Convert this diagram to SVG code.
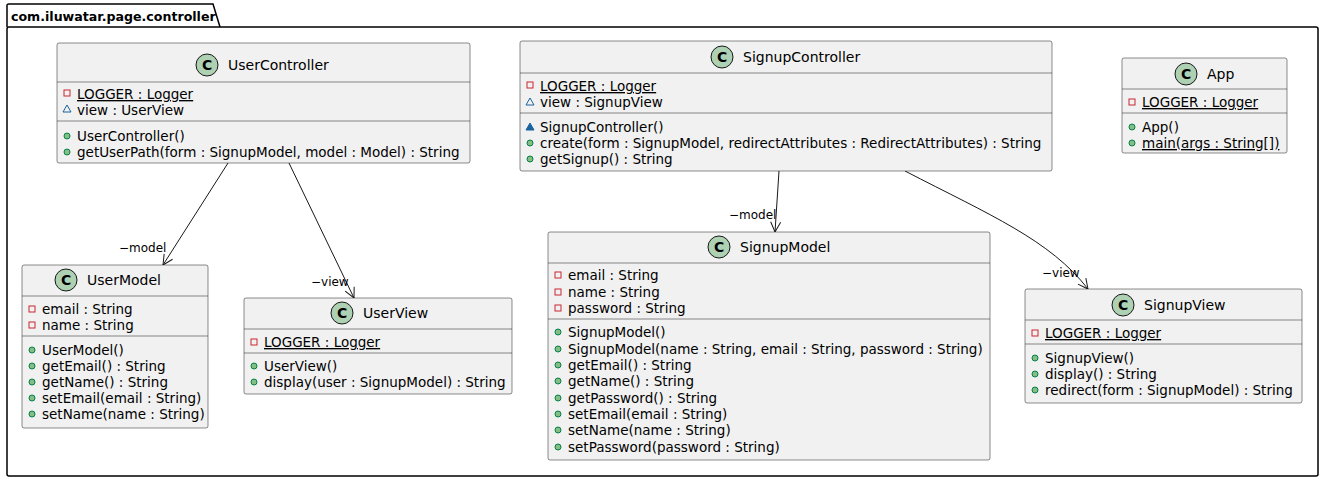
<svg xmlns="http://www.w3.org/2000/svg" width="1325" height="482" viewBox="0 0 1325 482">
<defs>
<style>
text{font-family:"DejaVu Sans","Liberation Sans",sans-serif;font-size:13.5px;fill:#000}
.t{font-size:14px}
.box{fill:#F1F1F1;stroke:#181818;stroke-width:0.5}
.sep{stroke:#181818;stroke-width:0.5}
.ci{fill:#ADD1B2;stroke:#181818;stroke-width:1}
.cl{font-weight:bold;font-size:14px}
.priv{fill:none;stroke:#C82930;stroke-width:1}
.pkg{fill:none;stroke:#1963A0;stroke-width:1}
.pkgf{fill:#1963A0;stroke:#1963A0;stroke-width:1}
.pub{fill:#84BE84;stroke:#038048;stroke-width:1}
.u{text-decoration:underline}
.conn{fill:none;stroke:#181818;stroke-width:1}
.lbl{font-size:12px}
</style>
<marker id="arr" viewBox="0 0 12 12" refX="11" refY="6" markerWidth="12" markerHeight="12" orient="auto" markerUnits="userSpaceOnUse">
<path d="M1,1 L11,6 L1,11" fill="none" stroke="#181818" stroke-width="1"/>
</marker>
</defs>
<g id="package">
<path d="M7,27 L7,5 Q7,4 9,4 L213,4 L220,27" fill="none" stroke="#000" stroke-width="1.5"/>
<rect x="7" y="27" width="1311" height="449" rx="2" fill="none" stroke="#000" stroke-width="1.5"/>
<text x="11" y="21" style="font-weight:bold;font-size:12.6px">com.iluwatar.page.controller</text>
</g>
<g id="connectors">
<path class="conn" d="M228,163 L163,265" marker-end="url(#arr)"/>
<text class="lbl" x="119" y="252">−model</text>
<path class="conn" d="M289,163 L354,298" marker-end="url(#arr)"/>
<text class="lbl" x="311" y="286">−view</text>
<path class="conn" d="M779,171 L775,232" marker-end="url(#arr)"/>
<text class="lbl" x="729" y="219">−model</text>
<path class="conn" d="M905,171 C990,215 1050,240 1088,289" marker-end="url(#arr)"/>
<text class="lbl" x="1042" y="277">−view</text>
</g>
<g id="UserController">
<rect class="box" x="57" y="43" width="413" height="120" rx="2"/>
<circle class="ci" cx="207" cy="65" r="11"/><text class="cl" x="202" y="70">C</text>
<text class="t" x="228" y="70">UserController</text>
<line class="sep" x1="57" y1="82" x2="470" y2="82"/>
<rect class="priv" x="64" y="90" width="6" height="6"/><text class="u" x="77" y="99">LOGGER : Logger</text>
<path class="pkg" d="M63,112 L67,105 L71,112 Z"/><text x="77" y="115">view : UserView</text>
<line class="sep" x1="57" y1="121" x2="470" y2="121"/>
<circle class="pub" cx="67" cy="136" r="3"/><text x="77" y="141">UserController()</text>
<circle class="pub" cx="67" cy="152" r="3"/><text x="77" y="157">getUserPath(form : SignupModel, model : Model) : String</text>
</g>
<g id="SignupController">
<rect class="box" x="520" y="41" width="532" height="130" rx="2"/>
<circle class="ci" cx="722" cy="57" r="11"/><text class="cl" x="717" y="62">C</text>
<text class="t" x="743" y="62">SignupController</text>
<line class="sep" x1="520" y1="73" x2="1052" y2="73"/>
<rect class="priv" x="527" y="82" width="6" height="6"/><text class="u" x="540" y="91">LOGGER : Logger</text>
<path class="pkg" d="M526,105 L530,98 L534,105 Z"/><text x="540" y="107">view : SignupView</text>
<line class="sep" x1="520" y1="113" x2="1052" y2="113"/>
<path class="pkgf" d="M526,130 L530,123 L534,130 Z"/><text x="540" y="132">SignupController()</text>
<circle class="pub" cx="530" cy="143" r="3"/><text x="540" y="148">create(form : SignupModel, redirectAttributes : RedirectAttributes) : String</text>
<circle class="pub" cx="530" cy="159" r="3"/><text x="540" y="164">getSignup() : String</text>
</g>
<g id="App">
<rect class="box" x="1122" y="58" width="165" height="95" rx="2"/>
<circle class="ci" cx="1186" cy="74" r="11"/><text class="cl" x="1181" y="79">C</text>
<text class="t" x="1207" y="79">App</text>
<line class="sep" x1="1122" y1="89" x2="1287" y2="89"/>
<rect class="priv" x="1129" y="99" width="6" height="6"/><text class="u" x="1142" y="107">LOGGER : Logger</text>
<line class="sep" x1="1122" y1="113" x2="1287" y2="113"/>
<circle class="pub" cx="1132" cy="127" r="3"/><text x="1142" y="132">App()</text>
<circle class="pub" cx="1132" cy="143" r="3"/><text class="u" x="1142" y="148">main(args : String[])</text>
</g>
<g id="UserModel">
<rect class="box" x="22" y="265" width="186" height="163" rx="2"/>
<circle class="ci" cx="66" cy="280" r="11"/><text class="cl" x="61" y="285">C</text>
<text class="t" x="87" y="285">UserModel</text>
<line class="sep" x1="22" y1="296" x2="208" y2="296"/>
<rect class="priv" x="29" y="306" width="6" height="6"/><text x="42" y="314">email : String</text>
<rect class="priv" x="29" y="322" width="6" height="6"/><text x="42" y="330">name : String</text>
<line class="sep" x1="22" y1="336" x2="208" y2="336"/>
<circle class="pub" cx="32" cy="350" r="3"/><text x="42" y="355">UserModel()</text>
<circle class="pub" cx="32" cy="366" r="3"/><text x="42" y="371">getEmail() : String</text>
<circle class="pub" cx="32" cy="382" r="3"/><text x="42" y="387">getName() : String</text>
<circle class="pub" cx="32" cy="398" r="3"/><text x="42" y="403">setEmail(email : String)</text>
<circle class="pub" cx="32" cy="414" r="3"/><text x="42" y="419">setName(name : String)</text>
</g>
<g id="UserView">
<rect class="box" x="244" y="298" width="268" height="96" rx="2"/>
<circle class="ci" cx="342" cy="313" r="11"/><text class="cl" x="337" y="318">C</text>
<text class="t" x="363" y="318">UserView</text>
<line class="sep" x1="244" y1="329" x2="512" y2="329"/>
<rect class="priv" x="251" y="339" width="6" height="6"/><text class="u" x="264" y="347">LOGGER : Logger</text>
<line class="sep" x1="244" y1="353" x2="512" y2="353"/>
<circle class="pub" cx="254" cy="366" r="3"/><text x="264" y="371">UserView()</text>
<circle class="pub" cx="254" cy="382" r="3"/><text x="264" y="387">display(user : SignupModel) : String</text>
</g>
<g id="SignupModel">
<rect class="box" x="548" y="232" width="442" height="228" rx="2"/>
<circle class="ci" cx="719" cy="247" r="11"/><text class="cl" x="714" y="252">C</text>
<text class="t" x="740" y="252">SignupModel</text>
<line class="sep" x1="548" y1="263" x2="990" y2="263"/>
<rect class="priv" x="555" y="272" width="6" height="6"/><text x="568" y="280">email : String</text>
<rect class="priv" x="555" y="289" width="6" height="6"/><text x="568" y="297">name : String</text>
<rect class="priv" x="555" y="305" width="6" height="6"/><text x="568" y="313">password : String</text>
<line class="sep" x1="548" y1="319" x2="990" y2="319"/>
<circle class="pub" cx="558" cy="332" r="3"/><text x="568" y="337">SignupModel()</text>
<circle class="pub" cx="558" cy="349" r="3"/><text x="568" y="354">SignupModel(name : String, email : String, password : String)</text>
<circle class="pub" cx="558" cy="365" r="3"/><text x="568" y="370">getEmail() : String</text>
<circle class="pub" cx="558" cy="381" r="3"/><text x="568" y="386">getName() : String</text>
<circle class="pub" cx="558" cy="398" r="3"/><text x="568" y="403">getPassword() : String</text>
<circle class="pub" cx="558" cy="414" r="3"/><text x="568" y="419">setEmail(email : String)</text>
<circle class="pub" cx="558" cy="430" r="3"/><text x="568" y="435">setName(name : String)</text>
<circle class="pub" cx="558" cy="447" r="3"/><text x="568" y="452">setPassword(password : String)</text>
</g>
<g id="SignupView">
<rect class="box" x="1025" y="289" width="277" height="114" rx="2"/>
<circle class="ci" cx="1123" cy="305" r="11"/><text class="cl" x="1118" y="310">C</text>
<text class="t" x="1144" y="310">SignupView</text>
<line class="sep" x1="1025" y1="320" x2="1302" y2="320"/>
<rect class="priv" x="1032" y="330" width="6" height="6"/><text class="u" x="1045" y="338">LOGGER : Logger</text>
<line class="sep" x1="1025" y1="344" x2="1302" y2="344"/>
<circle class="pub" cx="1035" cy="358" r="3"/><text x="1045" y="363">SignupView()</text>
<circle class="pub" cx="1035" cy="374" r="3"/><text x="1045" y="379">display() : String</text>
<circle class="pub" cx="1035" cy="390" r="3"/><text x="1045" y="395">redirect(form : SignupModel) : String</text>
</g>
</svg>
